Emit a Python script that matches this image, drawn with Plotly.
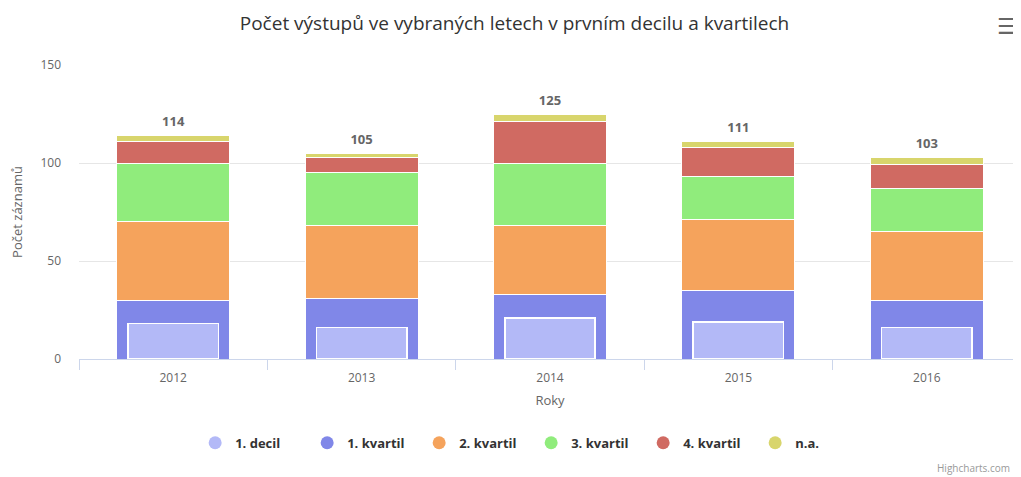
"""Stacked column chart of records per year by quartile, with the first decile overlaid."""

import pandas as pd
import plotly.graph_objects as go

TITLE = "Počet výstupů ve vybraných letech v prvním decilu a kvartilech"
FONT = "Open Sans, DejaVu Sans, sans-serif"
GRID_COLOR = "#e6e6e6"
AXIS_COLOR = "#ccd6eb"

DECIL_COLOR = "#b3b9f7"
SERIES_COLORS = {
    "1. kvartil": "#8087e8",
    "2. kvartil": "#f5a35c",
    "3. kvartil": "#90ec7c",
    "4. kvartil": "#d06a62",
    "n.a.": "#d8d56c",
}

data = pd.DataFrame(
    {
        "rok": ["2012", "2013", "2014", "2015", "2016"],
        "1. decil": [18, 16, 21, 19, 16],
        "1. kvartil": [30, 31, 33, 35, 30],
        "2. kvartil": [40, 37, 35, 36, 35],
        "3. kvartil": [30, 27, 32, 22, 22],
        "4. kvartil": [11, 8, 21, 15, 12],
        "n.a.": [3, 2, 4, 3, 4],
    }
)


def build_chart(df: pd.DataFrame) -> go.Figure:
    """Stacked quartile columns, narrower decile column on top, totals above each stack."""
    fig = go.Figure()
    for name, color in SERIES_COLORS.items():
        fig.add_trace(
            go.Bar(
                x=df["rok"],
                y=df[name],
                name=name,
                legendgroup=name,
                showlegend=False,
                width=0.6,
                marker=dict(color=color, line=dict(color="white", width=1)),
            )
        )

    # decile sits on its own (hidden) category axis so it overlays the stack instead of joining it
    fig.add_trace(
        go.Bar(
            x=df["rok"],
            y=df["1. decil"],
            name="1. decil",
            legendgroup="1. decil",
            showlegend=False,
            width=0.48,
            xaxis="x2",
            yaxis="y",
            marker=dict(color=DECIL_COLOR, line=dict(color="white", width=1.5)),
        )
    )

    totals = df[list(SERIES_COLORS)].sum(axis=1)
    fig.add_trace(
        go.Scatter(
            x=df["rok"],
            y=totals,
            mode="markers+text",  # invisible marker only pushes the label up a little
            marker=dict(size=8, opacity=0),
            text=totals.astype(str),
            textposition="top center",
            textfont=dict(family=FONT, size=13, color="#666666", weight="bold"),
            showlegend=False,
            hoverinfo="skip",
        )
    )

    # legend with round symbols, like the original
    legend_colors = {"1. decil": DECIL_COLOR, **SERIES_COLORS}
    for name, color in legend_colors.items():
        fig.add_trace(
            go.Scatter(
                x=[None],
                y=[None],
                mode="markers",
                name=name,
                legendgroup=name,
                marker=dict(color=color, size=13, symbol="circle"),
            )
        )

    # the page body adds 8px on the left and top, so the figure is sized 8px smaller
    fig.update_layout(
        barmode="stack",
        title=dict(
            text=TITLE,
            x=0.5,
            xref="container",
            xanchor="center",
            y=0.967,
            yanchor="middle",
            font=dict(family=FONT, size=19, color="#333333"),
        ),
        xaxis=dict(
            type="category",
            range=[-0.5, 4.5],
            showgrid=False,
            showline=True,
            linecolor=AXIS_COLOR,
            ticks="outside",
            tickson="boundaries",
            ticklen=10,
            tickcolor=AXIS_COLOR,
            ticklabelstandoff=8,
            tickfont=dict(family=FONT, size=12, color="#666666"),
            title=dict(text="Roky", font=dict(family=FONT, size=13, color="#666666"), standoff=10),
        ),
        xaxis2=dict(
            type="category",
            range=[-0.5, 4.5],
            overlaying="x",
            visible=False,
        ),
        yaxis=dict(
            range=[0, 150],
            tickvals=[0, 50, 100, 150],
            gridcolor=GRID_COLOR,
            zeroline=False,
            ticks="",
            tickfont=dict(family=FONT, size=12, color="#666666"),
            ticklabelstandoff=17,
            title=dict(text="Počet záznamů", font=dict(family=FONT, size=13, color="#666666"), standoff=15),
        ),
        legend=dict(
            orientation="h",
            x=0.48,
            xanchor="center",
            y=-0.285,
            yanchor="middle",
            entrywidth=67,
            font=dict(family=FONT, size=13, color="#333333", weight="bold"),
            itemsizing="trace",
        ),
        plot_bgcolor="white",
        paper_bgcolor="white",
        margin=dict(l=71, r=0, t=57, b=118),
        width=1013,
        height=469,
        annotations=[
            dict(
                text="Highcharts.com",
                xref="paper",
                yref="paper",
                x=0.99,
                y=-0.371,
                xanchor="right",
                yanchor="middle",
                showarrow=False,
                font=dict(family=FONT, size=10, color="#999999"),
            ),
            dict(
                text="☰",
                xref="paper",
                yref="paper",
                x=0.985,
                y=1.13,
                xanchor="center",
                yanchor="middle",
                showarrow=False,
                font=dict(family="DejaVu Sans", size=22, color="#666666", weight="bold"),
            ),
        ],
    )
    return fig


fig = build_chart(data)
fig.write_html("out.html")
